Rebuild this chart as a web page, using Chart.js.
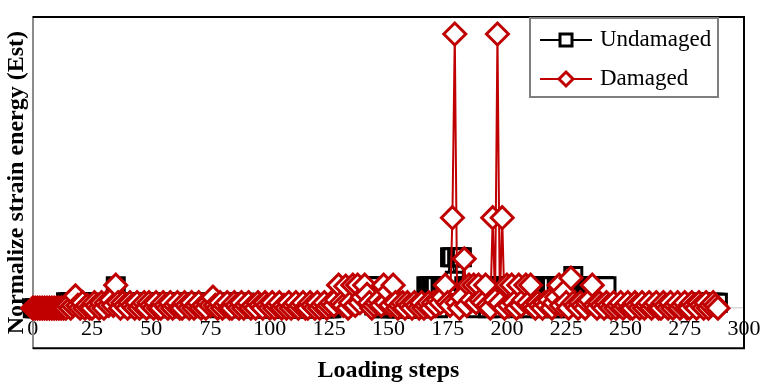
<!DOCTYPE html>
<html>
<head>
<meta charset="utf-8">
<script src="https://cdn.jsdelivr.net/npm/chart.js@4.4.1/dist/chart.umd.min.js"></script>
<style>
  html, body { margin: 0; padding: 0; background: #fff; }
  #wrap { width: 763px; height: 389px; }
</style>
</head>
<body>
<div id="wrap"><canvas id="strainChart"></canvas></div>
<script>
// loading step index (x)
const steps = Array.from({ length: 290 }, (_, i) => i);

// normalized strain energy (peak = 100)
const undamaged = [
  0, 0, 0, 0, 0, 0, 0, 0, 0, 0,
  0, 0, 0, 0, 2.2, 2.2, 2.2, 2.2, 2.2, 2.2,
  2.2, 2.2, 2.2, 1.5, 1.5, 1.5, 1.5, 1.5, 1.5, 1.5,
  2, 2, 2, 2, 2, 8, 2, 2, 2, 2,
  2, 2, 0, 2, 2, 2, 0, 2, 2, 2,
  2, 2, 2, 0, 2, 2, 2, 2, 0, 2,
  2, 2, 2, 2, 0, 2, 2, 2, 2, 2,
  0, 2, 2, 2, 2, 2, 2, 0, 2, 2,
  2, 2, 0, 2, 2, 2, 2, 2, 0, 2,
  2, 0, 0, 0, 0, 0, 0, 0, 0, 0,
  0, 0, 0, 0, 0, 0, 0, 0, 0, 0,
  0, 0, 0, 0, 0, 0, 0, 0, 0, 0,
  0, 0, 0, 0, 0, 0, 0, 1, 1, 1,
  1, 1, 1, 8, 8, 8, 8, 8, 8, 8,
  8, 8, 8, 8, 1, 1, 0, 1, 0, 1,
  1, 0, 1, 0, 0, 0, 0, 0, 0, 0,
  0, 0, 0, 0, 0, 0, 8, 8, 8, 8,
  8, 0, 8, 8, 8, 8, 18.6, 18.6, 10, 18.6,
  18.6, 18.6, 8, 8, 8, 8, 8, 0, 8, 8,
  8, 8, 0, 8, 8, 8, 8, 0, 8, 8,
  8, 8, 8, 0, 8, 8, 8, 8, 8, 0,
  8, 8, 8, 8, 0, 8, 8, 8, 8, 8,
  0, 8, 8, 0, 8, 8, 8, 8, 11.7, 8,
  8, 8, 8, 8, 8, 8, 8, 8, 8, 8,
  8, 8, 8, 0, 0, 1, 1, 1, 1, 1,
  1, 1, 1, 1, 1, 1, 1, 1, 1, 1,
  1, 1, 1, 1, 1, 1, 1, 1, 1, 1,
  1, 1, 1, 1, 1, 1, 1, 1, 1, 1,
  2, 2, 2, 2, 2, 2, 2, 2, 2, 2
];

const damaged = [
  0, 0, 0, 0, 0, 0, 0, 0, 0, 0,
  0, 0, 0, 0, 0, 1, 0, 1, 4.5, 1,
  0, 2, 0, 1, 0, 0, 2, 1, 0, 2,
  0, 2, 1, 3, 1, 8.4, 2, 0, 2, 1,
  0, 2, 1, 0, 2, 0, 1, 2, 0, 2,
  1, 0, 2, 0, 0, 2, 1, 0, 2, 0,
  1, 2, 0, 0, 2, 1, 0, 2, 0, 1,
  2, 0, 1, 0, 2, 1, 4, 1, 0, 2,
  0, 1, 2, 0, 0, 2, 1, 0, 2, 0,
  1, 2, 0, 1, 0, 2, 1, 0, 2, 1,
  0, 2, 0, 1, 2, 0, 1, 0, 2, 0,
  1, 2, 0, 1, 2, 0, 0, 2, 1, 0,
  2, 0, 1, 2, 0, 1, 2, 1, 3, 8.4,
  2, 1, 8, 0, 2, 8.4, 1, 8.4, 2, 4,
  8.4, 5, 2, 0, 1, 2, 3, 1, 8.4, 2,
  6, 1, 8.4, 2, 0, 1, 2, 0, 2, 1,
  0, 2, 1, 0, 2, 0, 1, 2, 0, 2,
  1, 3, 2, 4, 8.4, 2, 1, 33, 100, 2,
  0, 4, 18, 1, 8.4, 3, 8.4, 2, 8.4, 3,
  2, 8.4, 1, 0, 33, 3, 100, 2, 33, 0,
  8.4, 1, 8.4, 2, 0, 8.4, 1, 3, 8.4, 2,
  8.4, 1, 0, 2, 1, 0, 2, 1, 3, 0,
  2, 4, 8.4, 1, 6, 2, 0, 11, 2, 1,
  0, 2, 1, 0, 2, 3, 8.4, 1, 0, 2,
  1, 0, 2, 1, 0, 2, 0, 1, 2, 0,
  1, 2, 0, 0, 2, 1, 0, 2, 0, 1,
  2, 0, 1, 2, 0, 0, 2, 1, 0, 2,
  0, 1, 2, 0, 1, 2, 0, 0, 2, 1,
  0, 2, 1, 0, 2, 0, 1, 2, 1, 0
];

const seriesNames = ['Undamaged', 'Damaged'];
const xMin = 0, xMax = 300, xStep = 25;

const serif = "'Liberation Serif', 'Times New Roman', serif";
const RED = '#c00000';

// plot frame: black top/right/bottom lines
const frame = {
  id: 'frame',
  beforeDatasetsDraw(chart) {
    const { ctx, chartArea: a } = chart;
    ctx.save();
    ctx.strokeStyle = '#000';
    ctx.lineWidth = 2;
    ctx.beginPath();
    ctx.moveTo(a.left, a.top);
    ctx.lineTo(a.right, a.top);
    ctx.lineTo(a.right, a.bottom);
    ctx.lineTo(a.left, a.bottom);
    ctx.stroke();
    ctx.restore();
  }
};

// legend with line + marker inside the plot, top right
const boxLegend = {
  id: 'boxLegend',
  afterDraw(chart) {
    const { ctx, chartArea: a } = chart;
    const x0 = a.right - 214, y0 = a.top + 1, w = 188, h = 79;
    ctx.save();
    ctx.fillStyle = '#fff';
    ctx.fillRect(x0, y0, w, h);
    ctx.strokeStyle = '#7f7f7f';
    ctx.lineWidth = 2;
    ctx.strokeRect(x0, y0, w, h);
    chart.data.datasets.forEach((ds, i) => {
      const y = y0 + 22 + i * 39;
      ctx.strokeStyle = ds.borderColor;
      ctx.lineWidth = 2;
      ctx.beginPath();
      ctx.moveTo(x0 + 10, y);
      ctx.lineTo(x0 + 62, y);
      ctx.stroke();
      const cx = x0 + 36;
      ctx.fillStyle = '#fff';
      ctx.lineWidth = 3;
      ctx.beginPath();
      if (ds.pointStyle === 'rect') {
        ctx.rect(cx - 6, y - 6, 12, 12);
      } else {
        ctx.moveTo(cx, y - 7);
        ctx.lineTo(cx + 7, y);
        ctx.lineTo(cx, y + 7);
        ctx.lineTo(cx - 7, y);
        ctx.closePath();
      }
      ctx.fill();
      ctx.stroke();
      ctx.fillStyle = '#000';
      ctx.font = '23px ' + serif;
      ctx.textBaseline = 'middle';
      ctx.fillText(ds.label, x0 + 70, y);
    });
    ctx.restore();
  }
};

const ctx = document.getElementById('strainChart').getContext('2d');

new Chart(ctx, {
  type: 'line',
  data: {
    datasets: [
      {
        label: seriesNames[0],
        data: steps.map((s, i) => ({ x: s, y: undamaged[i] })),
        borderColor: '#000',
        borderWidth: 2,
        pointStyle: 'rect',
        pointRadius: 12,
        pointBorderWidth: 3,
        pointBackgroundColor: '#fff',
        pointBorderColor: '#000',
        tension: 0,
        clip: false,
        order: 2
      },
      {
        label: seriesNames[1],
        data: steps.map((s, i) => ({ x: s, y: damaged[i] })),
        borderColor: RED,
        borderWidth: 2,
        pointStyle: 'rectRot',
        pointRadius: 11,
        pointBorderWidth: 3,
        pointBackgroundColor: '#fff',
        pointBorderColor: RED,
        tension: 0,
        clip: false,
        order: 1
      }
    ]
  },
  options: {
    responsive: true,
    maintainAspectRatio: false,
    animation: false,
    layout: { padding: { left: 2, right: 19, top: 17, bottom: 0 } },
    plugins: {
      legend: { display: false },
      tooltip: { enabled: false },
      title: {
        display: true,
        text: 'Loading steps',
        position: 'bottom',
        fullSize: false,
        color: '#000',
        font: { family: serif, size: 24, weight: 'bold' },
        padding: { top: 8, bottom: 4 }
      }
    },
    scales: {
      x: {
        type: 'linear',
        position: { y: 0 },
        min: xMin,
        max: xMax,
        afterFit(scale) {
          scale.height = 0;
          scale.paddingLeft = 0;
          scale.paddingRight = 0;
        },
        grid: { display: false, drawTicks: false, tickLength: 0 },
        border: { display: true, color: '#d9d9d9', width: 1.5 },
        ticks: {
          stepSize: xStep,
          autoSkip: false,
          maxRotation: 0,
          padding: 8,
          color: '#000',
          font: { family: serif, size: 22 }
        }
      },
      y: {
        min: -14.6,
        max: 106.2,
        grid: { display: false, drawTicks: false },
        border: { display: true, color: '#8c8c8c', width: 2 },
        ticks: { display: false },
        title: {
          display: true,
          text: 'Normalize strain energy (Est)',
          color: '#000',
          font: { family: serif, size: 24, weight: 'bold' },
          padding: { top: 0, bottom: 2 }
        }
      }
    }
  },
  plugins: [frame, boxLegend]
});
</script>
</body>
</html>
